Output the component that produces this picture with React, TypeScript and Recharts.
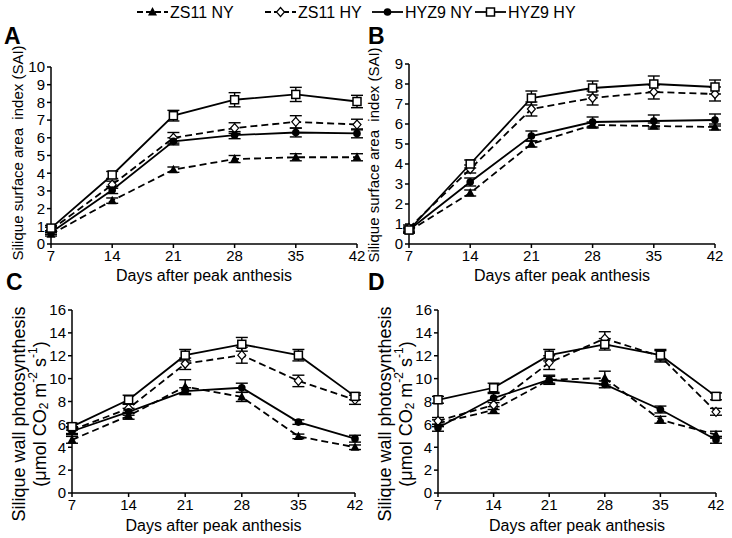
import React from "react";
import { LineChart, Line, XAxis, YAxis, ErrorBar } from "recharts";

const days = [7, 14, 21, 28, 35, 42];

// Panel A - silique surface area index
const aZsNY = [0.55, 2.45, 4.2, 4.8, 4.9, 4.9];
const aZsHY = [0.8, 3.35, 6.0, 6.55, 6.9, 6.75];
const aHyNY = [0.65, 3.05, 5.8, 6.15, 6.3, 6.25];
const aHyHY = [0.9, 3.9, 7.25, 8.15, 8.45, 8.05];
const aZsNYErr = [0.1, 0.15, 0.15, 0.2, 0.2, 0.2];
const aZsHYErr = [0.15, 0.2, 0.3, 0.3, 0.35, 0.3];
const aHyNYErr = [0.1, 0.2, 0.2, 0.2, 0.25, 0.25];
const aHyHYErr = [0.15, 0.2, 0.3, 0.4, 0.4, 0.35];

// Panel B - silique surface area index
const bZsNY = [0.65, 2.55, 5.0, 5.95, 5.9, 5.85];
const bZsHY = [0.8, 3.75, 6.75, 7.3, 7.6, 7.5];
const bHyNY = [0.7, 3.1, 5.4, 6.1, 6.15, 6.2];
const bHyHY = [0.7, 4.0, 7.3, 7.8, 8.0, 7.85];
const bZsNYErr = [0.1, 0.15, 0.15, 0.15, 0.15, 0.15];
const bZsHYErr = [0.15, 0.2, 0.35, 0.35, 0.35, 0.35];
const bHyNYErr = [0.1, 0.2, 0.25, 0.25, 0.3, 0.3];
const bHyHYErr = [0.15, 0.2, 0.35, 0.35, 0.4, 0.35];

// Panel C - silique wall photosynthesis
const cZsNY = [4.65, 6.75, 9.3, 8.4, 4.95, 4.0];
const cZsHY = [5.5, 7.4, 11.3, 12.05, 9.8, 8.15];
const cHyNY = [5.4, 7.1, 8.9, 9.2, 6.2, 4.75];
const cHyHY = [5.8, 8.15, 12.05, 13.0, 12.05, 8.45];
const cZsNYErr = [0.3, 0.3, 0.6, 0.4, 0.2, 0.2];
const cZsHYErr = [0.3, 0.4, 0.5, 0.7, 0.5, 0.4];
const cHyNYErr = [0.3, 0.3, 0.3, 0.4, 0.2, 0.3];
const cHyHYErr = [0.3, 0.4, 0.5, 0.6, 0.5, 0.3];

// Panel D - silique wall photosynthesis
const dZsNY = [6.1, 7.25, 9.9, 10.05, 6.4, 5.1];
const dZsHY = [6.3, 7.7, 11.4, 13.5, 11.95, 7.1];
const dHyNY = [5.7, 8.3, 9.9, 9.5, 7.3, 4.65];
const dHyHY = [8.15, 9.2, 12.05, 13.0, 12.05, 8.45];
const dZsNYErr = [0.3, 0.3, 0.4, 0.6, 0.3, 0.3];
const dZsHYErr = [0.3, 0.4, 0.6, 0.6, 0.5, 0.3];
const dHyNYErr = [0.3, 0.4, 0.3, 0.3, 0.3, 0.3];
const dHyHYErr = [0.3, 0.4, 0.5, 0.5, 0.5, 0.3];

const saiTicksA = [0, 1, 2, 3, 4, 5, 6, 7, 8, 9, 10];
const saiTicksB = [0, 1, 2, 3, 4, 5, 6, 7, 8, 9];
const psTicks = [0, 2, 4, 6, 8, 10, 12, 14, 16];

const legendNames = ["ZS11 NY", "ZS11 HY", "HYZ9 NY", "HYZ9 HY"];

const FONT = '"Liberation Sans", Arial, sans-serif';

function rows(zsNY, zsHY, hyNY, hyHY, e1, e2, e3, e4) {
  return days.map((d, i) => ({
    day: d,
    zsNY: zsNY[i],
    zsHY: zsHY[i],
    hyNY: hyNY[i],
    hyHY: hyHY[i],
    zsNYErr: e1[i],
    zsHYErr: e2[i],
    hyNYErr: e3[i],
    hyHYErr: e4[i],
  }));
}

const dataA = rows(aZsNY, aZsHY, aHyNY, aHyHY, aZsNYErr, aZsHYErr, aHyNYErr, aHyHYErr);
const dataB = rows(bZsNY, bZsHY, bHyNY, bHyHY, bZsNYErr, bZsHYErr, bHyNYErr, bHyHYErr);
const dataC = rows(cZsNY, cZsHY, cHyNY, cHyHY, cZsNYErr, cZsHYErr, cHyNYErr, cHyHYErr);
const dataD = rows(dZsNY, dZsHY, dHyNY, dHyHY, dZsNYErr, dZsHYErr, dHyNYErr, dHyHYErr);

function Marker({ kind, cx, cy }) {
  if (cx == null || cy == null) return null;
  if (kind === "tri")
    return (
      <polygon
        points={`${cx},${cy - 5} ${cx + 4.5},${cy + 3.5} ${cx - 4.5},${cy + 3.5}`}
        fill="#000"
      />
    );
  if (kind === "dia")
    return (
      <polygon
        points={`${cx},${cy - 4.5} ${cx + 4},${cy} ${cx},${cy + 4.5} ${cx - 4},${cy}`}
        fill="#fff"
        stroke="#000"
        strokeWidth={1.2}
      />
    );
  if (kind === "circ") return <circle cx={cx} cy={cy} r={3.8} fill="#000" />;
  return (
    <rect x={cx - 4} y={cy - 4} width={8} height={8} fill="#fff" stroke="#000" strokeWidth={1.5} />
  );
}

const series = [
  { key: "zsNY", kind: "tri", dash: "7 4" },
  { key: "zsHY", kind: "dia", dash: "7 4" },
  { key: "hyNY", kind: "circ", dash: undefined },
  { key: "hyHY", kind: "sq", dash: undefined },
];

function Panel({ data, left, top, width, height, margin, yWidth, xHeight, yMax, yTicks, yLabel, titleOffset }) {
  return (
    <div style={{ position: "absolute", left, top }}>
      <LineChart width={width} height={height} data={data} margin={margin}>
        <XAxis
          dataKey="day"
          type="number"
          domain={[7, 42]}
          ticks={days}
          interval={0}
          height={xHeight}
          tick={{ fontSize: 15, fill: "#000", fontFamily: FONT }}
          tickSize={4}
          tickMargin={2}
          stroke="#000"
          strokeWidth={1.5}
          label={{
            value: "Days after peak anthesis",
            position: "insideBottom",
            offset: titleOffset,
            fontSize: 16,
            fill: "#000",
            fontFamily: FONT,
          }}
        />
        <YAxis
          type="number"
          domain={[0, yMax]}
          ticks={yTicks}
          interval={0}
          width={yWidth}
          tick={{ fontSize: 15, fill: "#000", fontFamily: FONT }}
          tickSize={4}
          tickMargin={2}
          stroke="#000"
          strokeWidth={1.5}
          label={{ content: () => yLabel }}
        />
        {series.map((s) => (
          <Line
            key={s.key}
            dataKey={s.key}
            stroke="#000"
            strokeWidth={1.8}
            strokeDasharray={s.dash}
            isAnimationActive={false}
            dot={(p) => <Marker key={`${s.key}-${p.index}`} kind={s.kind} cx={p.cx} cy={p.cy} />}
            activeDot={false}
          >
            <ErrorBar dataKey={`${s.key}Err`} width={6} stroke="#000" strokeWidth={1.4} />
          </Line>
        ))}
      </LineChart>
    </div>
  );
}

function SaiLabel({ x, y }) {
  return (
    <text
      x={x}
      y={y}
      transform={`rotate(-90 ${x} ${y})`}
      textAnchor="middle"
      dominantBaseline="central"
      fontSize={15}
      fontFamily={FONT}
      fill="#000"
    >
      {"Silique surface area\u00a0\u00a0index (SAI)"}
    </text>
  );
}

function PsLabel({ x1, x2, y }) {
  return (
    <g fontFamily={FONT} fontSize={18} fill="#000">
      <text x={x1} y={y} transform={`rotate(-90 ${x1} ${y})`} textAnchor="middle" dominantBaseline="central">
        Silique wall photosynthesis
      </text>
      <text x={x2} y={y} transform={`rotate(-90 ${x2} ${y})`} textAnchor="middle" dominantBaseline="central">
        <tspan>(μmol CO</tspan>
        <tspan fontSize={12} dy={4}>2</tspan>
        <tspan dy={-4}> m</tspan>
        <tspan fontSize={12} dy={-7}>-2</tspan>
        <tspan dy={7}> s</tspan>
        <tspan fontSize={12} dy={-7}>-1</tspan>
        <tspan dy={7}>)</tspan>
      </text>
    </g>
  );
}

function Legend() {
  const items = [
    { x: 137, kind: "tri", dash: "6 3" },
    { x: 265, kind: "dia", dash: "6 3" },
    { x: 372, kind: "circ", dash: undefined },
    { x: 475, kind: "sq", dash: undefined },
  ];
  return (
    <svg width={732} height={26} style={{ position: "absolute", left: 0, top: 0 }}>
      {items.map((it, i) => (
        <g key={i}>
          <line x1={it.x} x2={it.x + 31} y1={12} y2={12} stroke="#000" strokeWidth={1.8} strokeDasharray={it.dash} />
          <Marker kind={it.kind} cx={it.x + 15.5} cy={12} />
          <text x={it.x + 33} y={12} dominantBaseline="central" fontSize={16} fontFamily={FONT} fill="#000">
            {legendNames[i]}
          </text>
        </g>
      ))}
    </svg>
  );
}

const letterStyle: React.CSSProperties = {
  position: "absolute",
  fontFamily: FONT,
  fontWeight: "bold",
  fontSize: 23,
  lineHeight: "23px",
};

export default function App() {
  return (
    <div style={{ position: "absolute", left: 0, top: 0, width: 732, height: 538, background: "#fff", fontFamily: FONT }}>
      <Legend />
      <Panel
        data={dataA}
        left={0}
        top={20}
        width={366}
        height={270}
        margin={{ top: 47, right: 9, left: 0, bottom: 0 }}
        yWidth={51}
        xHeight={46}
        yMax={10}
        yTicks={saiTicksA}
        yLabel={<SaiLabel x={17} y={133} />}
        titleOffset={9}
      />
      <Panel
        data={dataB}
        left={358}
        top={20}
        width={374}
        height={270}
        margin={{ top: 44, right: 17, left: 0, bottom: 0 }}
        yWidth={51}
        xHeight={46}
        yMax={9}
        yTicks={saiTicksB}
        yLabel={<SaiLabel x={15} y={135} />}
        titleOffset={9}
      />
      <Panel
        data={dataC}
        left={0}
        top={290}
        width={366}
        height={248}
        margin={{ top: 20, right: 11, left: 0, bottom: 0 }}
        yWidth={72}
        xHeight={45}
        yMax={16}
        yTicks={psTicks}
        yLabel={<PsLabel x1={19} x2={40} y={124} />}
        titleOffset={7}
      />
      <Panel
        data={dataD}
        left={358}
        top={290}
        width={374}
        height={248}
        margin={{ top: 20, right: 16, left: 0, bottom: 0 }}
        yWidth={80}
        xHeight={45}
        yMax={16}
        yTicks={psTicks}
        yLabel={<PsLabel x1={27} x2={48} y={124} />}
        titleOffset={7}
      />
      <div style={{ ...letterStyle, left: 4, top: 25 }}>A</div>
      <div style={{ ...letterStyle, left: 368, top: 25 }}>B</div>
      <div style={{ ...letterStyle, left: 6, top: 271 }}>C</div>
      <div style={{ ...letterStyle, left: 368, top: 271 }}>D</div>
    </div>
  );
}
